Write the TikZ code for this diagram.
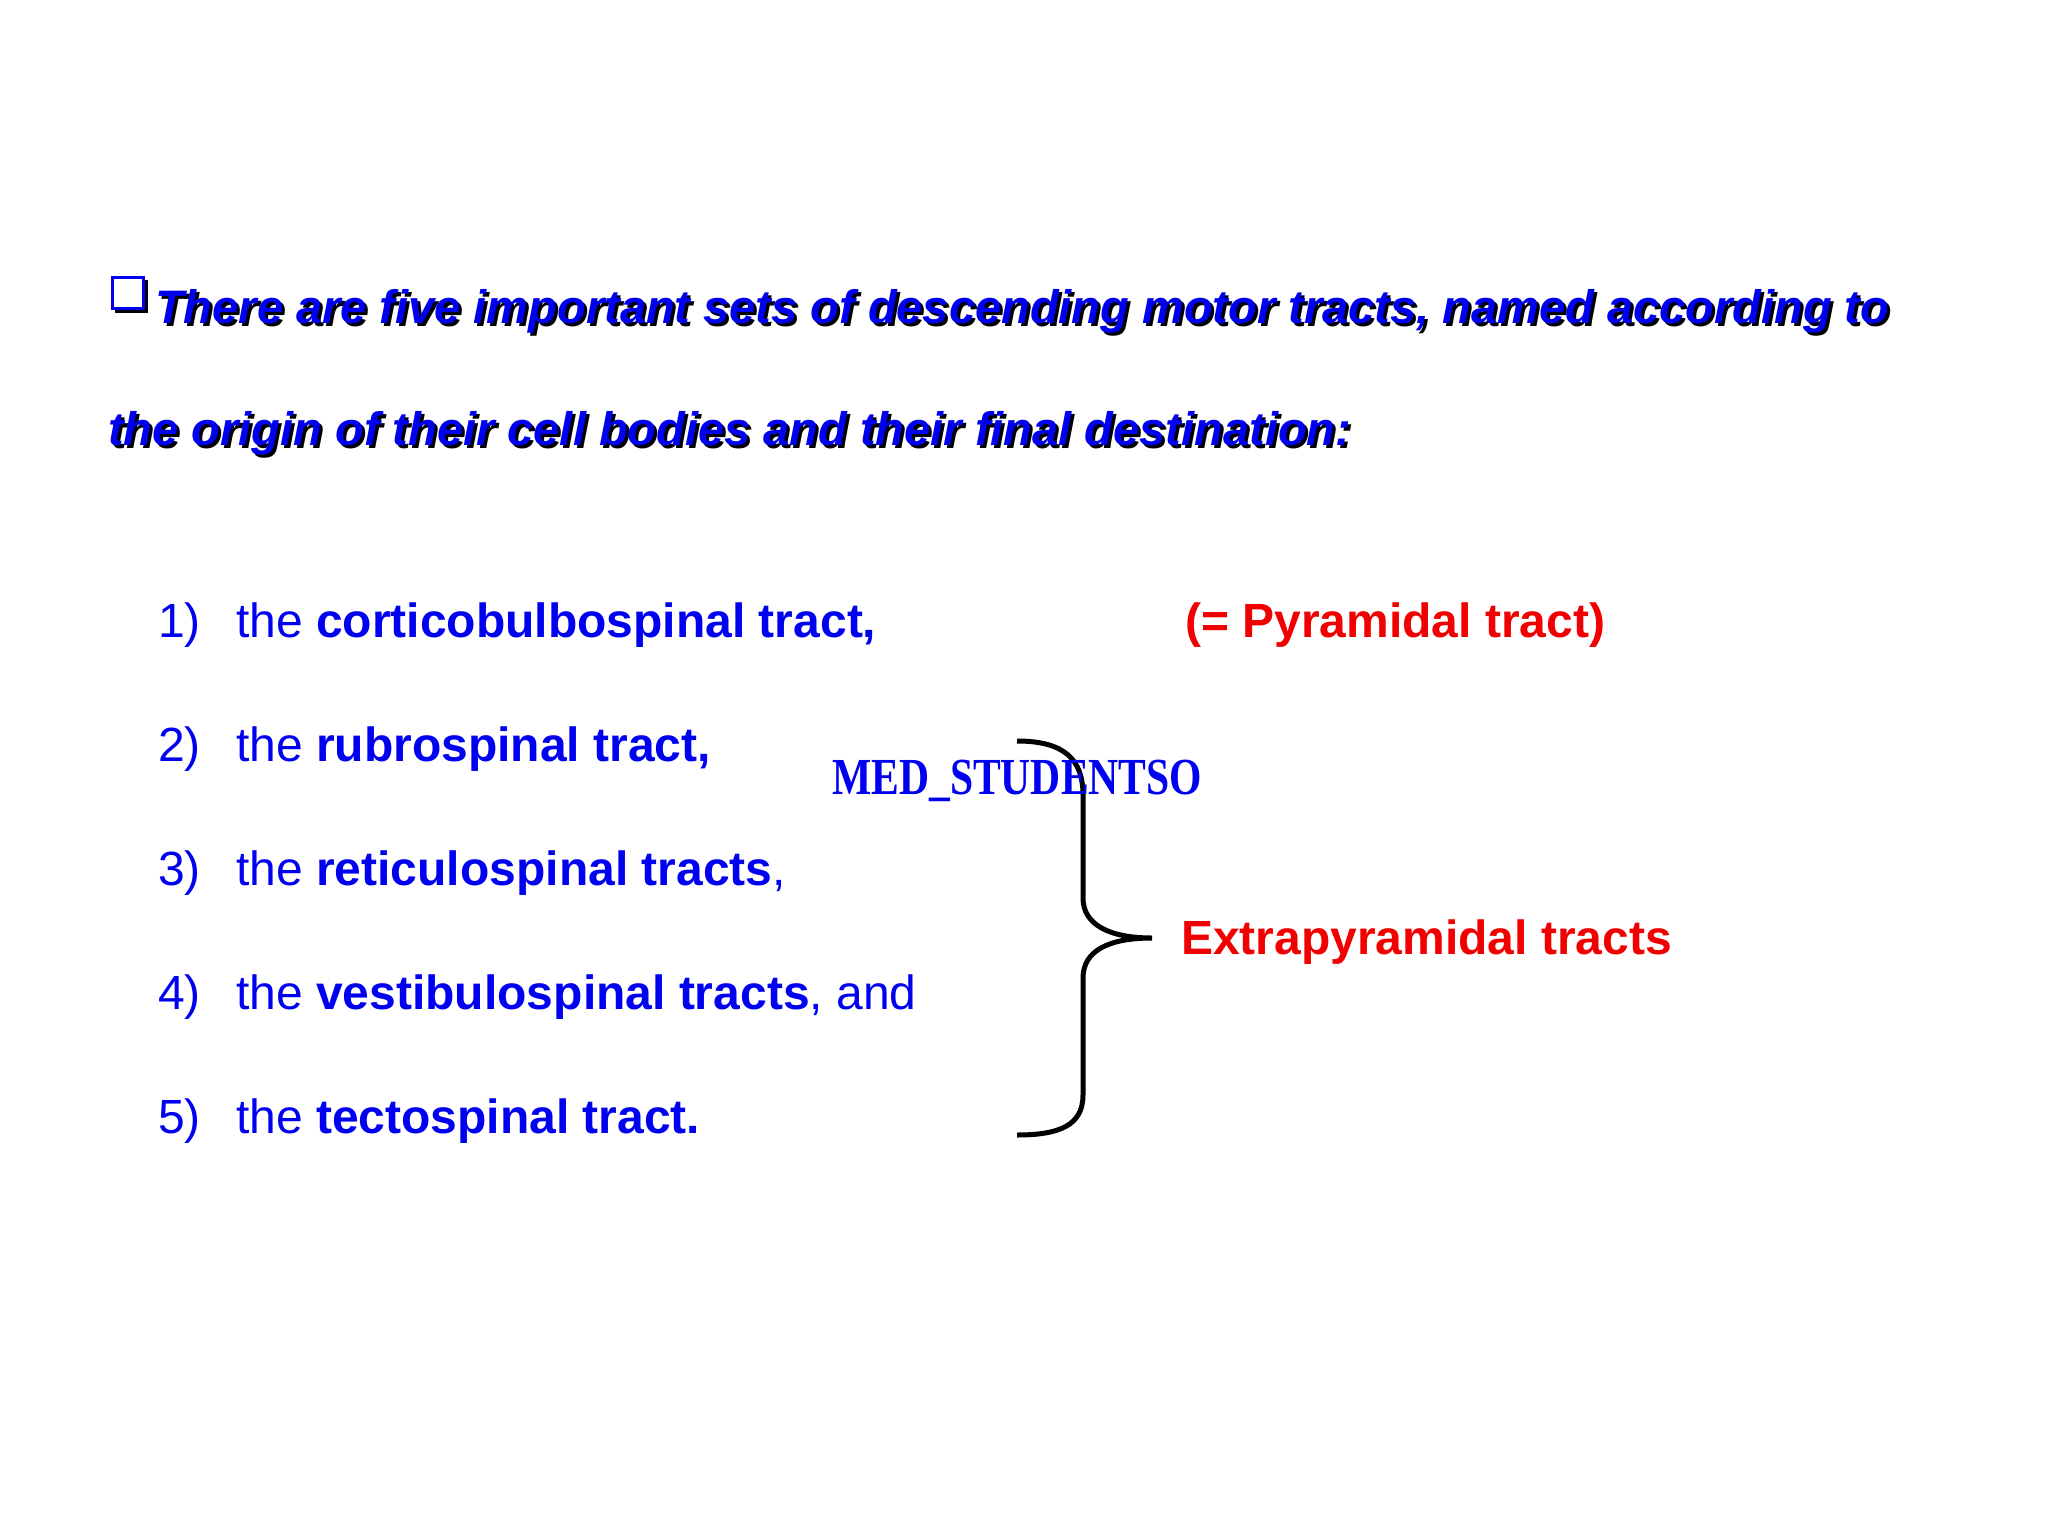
\documentclass[tikz,border=0pt]{standalone}
\usepackage{fontspec}
\setmainfont{Liberation Sans}
\newfontfamily\wmfont{Liberation Serif}
\definecolor{tblue}{RGB}{0,0,240}
\definecolor{tred}{RGB}{240,0,0}
\begin{document}
\begin{tikzpicture}[x=1pt,y=-1pt,
  txt/.style={anchor=base west,inner sep=0pt,font=\fontsize{48}{48}\selectfont},
  ttl/.style={anchor=base west,inner sep=0pt,font=\fontsize{47}{47}\selectfont\itshape\bfseries},
  item/.style={txt,text=tblue},
  lbl/.style={txt,text=tred,font=\fontsize{48}{48}\selectfont\bfseries}]
\useasboundingbox (0,0) rectangle (2048,1536);
% bullet
\fill[black] (115,280) rectangle (148,313);
\draw[tblue,line width=3pt,fill=white] (112,277) rectangle (143,308);
% title with shadow
\node[ttl,text=black] at (158,326) (t1s) {There are five important sets of descending motor tracts, named according to};
\node[ttl,text=tblue] at (155,323) (t1) {There are five important sets of descending motor tracts, named according to};
\node[ttl,text=black] at (111,448) (t2s) {the origin of their cell bodies and their final destination:};
\node[ttl,text=tblue] at (108,445) (t2) {the origin of their cell bodies and their final destination:};
% items
\foreach \n/\y/\t in {1/637/{the \textbf{corticobulbospinal tract,}},
                     2/761/{the \textbf{rubrospinal tract,}},
                     3/885/{the \textbf{reticulospinal tracts},},
                     4/1009/{the \textbf{vestibulospinal tracts}, and},
                     5/1133/{the \textbf{tectospinal tract.}}}{
  \node[item] (n\n) at (158,\y) {\n)};
  \node[item] (i\n) at (236,\y) {\t};
}
\node[lbl] (pyr) at (1185,637) {(= Pyramidal tract)};
\node[lbl] (ext) at (1181,954) {Extrapyramidal tracts};
% brace
\draw[line width=5pt] (1017,741) .. controls (1065,741) and (1083,760) .. (1083,795)
  -- (1083,898) .. controls (1083,925) and (1110,938) .. (1152,938)
  .. controls (1110,938) and (1083,950) .. (1083,978)
  -- (1083,1095) .. controls (1083,1125) and (1060,1135) .. (1017,1135);
% watermark
\node[anchor=base west,inner sep=0pt,text=tblue,font=\fontsize{52}{52}\selectfont\wmfont\bfseries] (wm) at (832,794) {\scalebox{0.8}[1]{MED\_STUDENTSO}};
\end{tikzpicture}
\end{document}
